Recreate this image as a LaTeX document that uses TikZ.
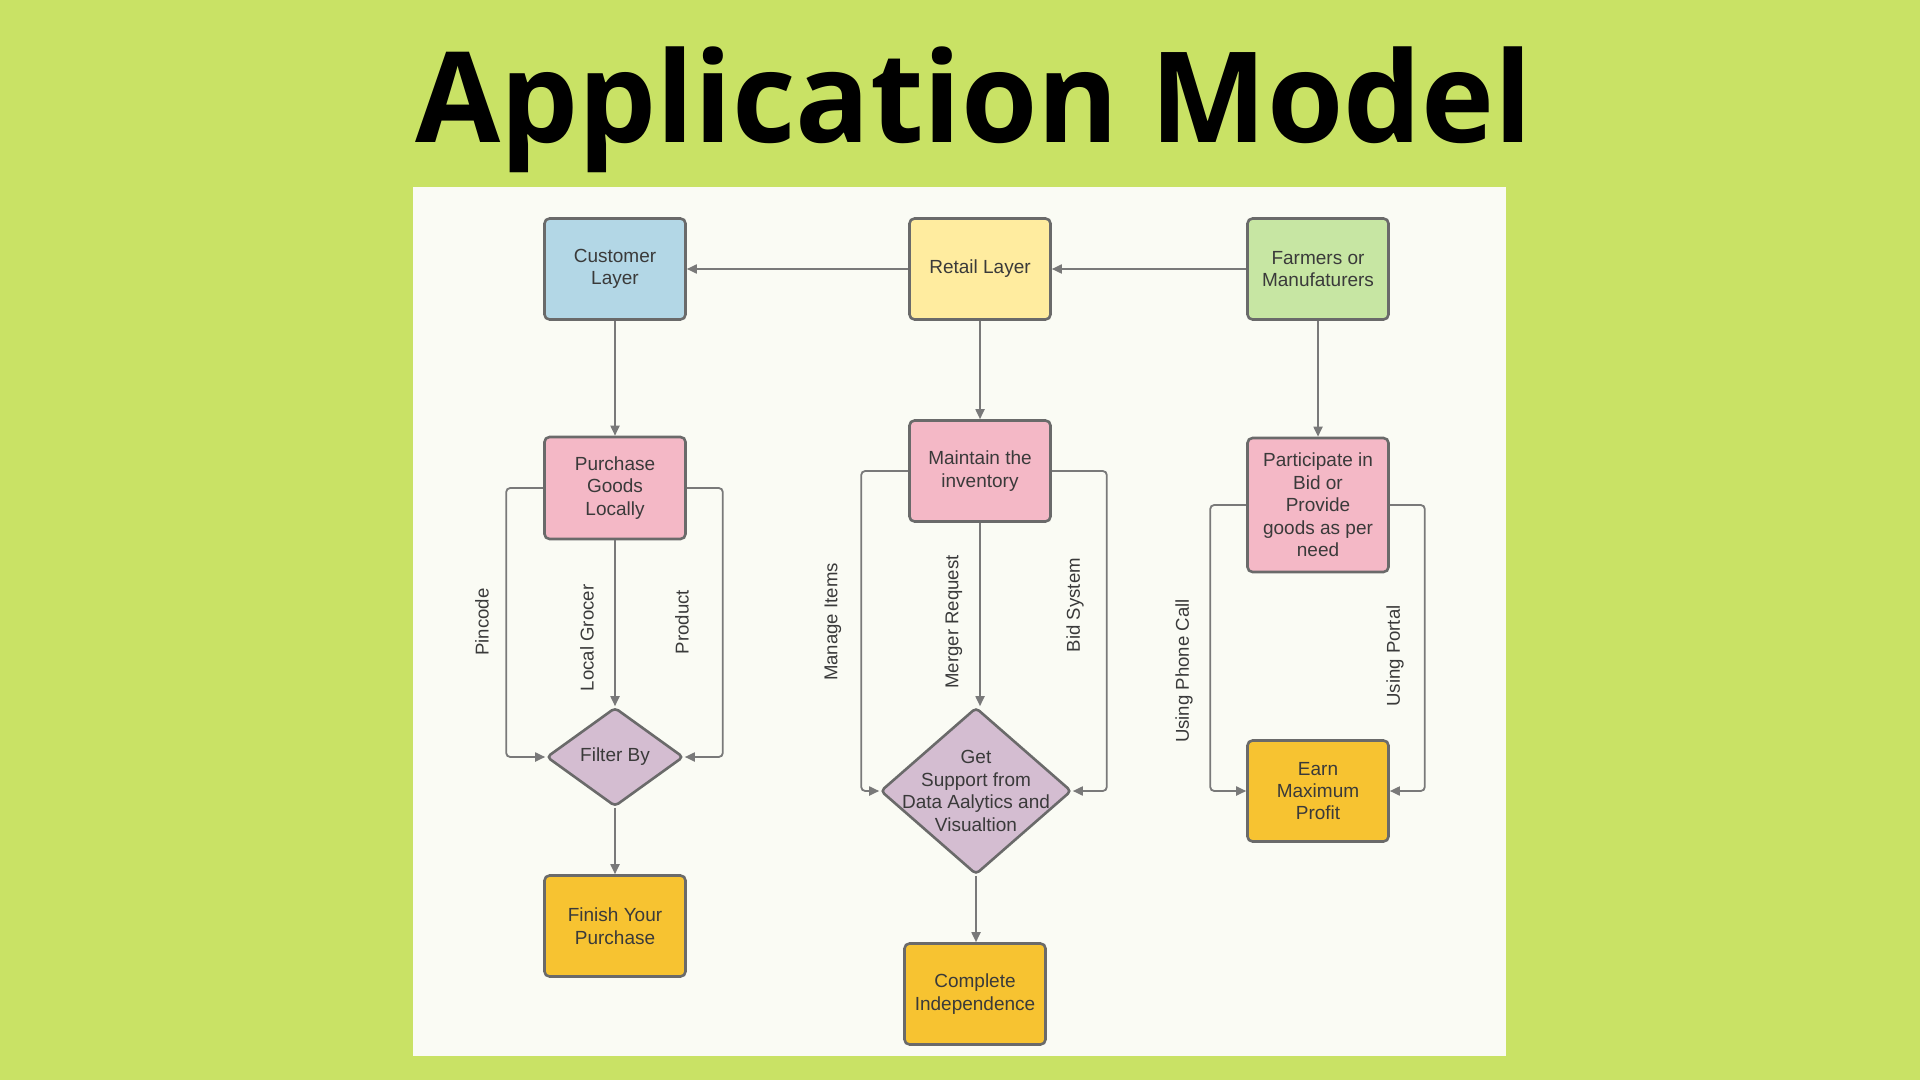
\documentclass[tikz,border=0pt]{standalone}
\usepackage{fontspec}
\setmainfont{Liberation Sans}
\newfontfamily\titlefont{Open Sans}
\usetikzlibrary{arrows.meta,positioning,shapes.geometric}

\definecolor{bggreen}{HTML}{C9E265}
\definecolor{panel}{HTML}{FAFBF4}
\definecolor{boxblue}{HTML}{B3D7E6}
\definecolor{boxyellow}{HTML}{FFEC9F}
\definecolor{boxgreen}{HTML}{C7E6A3}
\definecolor{boxpink}{HTML}{F4B8C6}
\definecolor{boxpurple}{HTML}{D4BDD1}
\definecolor{boxorange}{HTML}{F7C331}
\definecolor{edge}{HTML}{6A6A6A}
\definecolor{ink}{HTML}{3A3A3A}

\tikzset{
  layer/.style={draw=edge, line width=1.3pt, rounded corners=2.5pt,
    minimum width=70.5pt, minimum height=50.5pt, align=center,
    text=ink, font=\fontsize{9.5}{11.2}\selectfont},
  decision/.style={diamond, draw=edge, line width=1.3pt, rounded corners=2pt,
    fill=boxpurple, inner sep=0pt, text=ink,
    label={[align=center, text=ink, font=\fontsize{9.5}{11.2}\selectfont]center:#1}},
  link/.style={draw=edge!90, line width=0.9pt, rounded corners=2pt,
    -{Triangle[length=5pt,width=4.5pt]}},
  lab/.style={rotate=90, text=ink, font=\fontsize{9.3}{11}\selectfont}
}

\begin{document}
\begin{tikzpicture}[x=0.5pt,y=-0.5pt]
  \fill[bggreen] (0,0) rectangle (1920,1080);
  \fill[panel] (413,187) rectangle (1506,1056);
  \useasboundingbox (0,0) rectangle (1920,1080);

  % title
  \node[anchor=base, xscale=0.98, transform shape, font=\titlefont\bfseries\fontsize{63}{70}\selectfont] (title) at (974,143) {Application Model};

  % top layers
  \node[layer, fill=boxblue] (customer) at (615,269) {Customer\\Layer};
  \node[layer, fill=boxyellow] (retail) at (980,269) {Retail Layer};
  \node[layer, fill=boxgreen] (farmers) at (1318,269) {Farmers or\\Manufaturers};

  % second row
  \node[layer, fill=boxpink, minimum height=51pt] (purchase) at (615,488) {Purchase\\Goods\\Locally};
  \node[layer, fill=boxpink] (maintain) at (980,471) {Maintain the\\inventory};
  \node[layer, fill=boxpink, minimum height=67pt] (participate) at (1318,505) {Participate in\\Bid or\\Provide\\goods as per\\need};

  % decisions
  \node[decision={Filter By}, minimum width=68.5pt, minimum height=49.5pt] (filter) at (615,757) {};
  \node[decision={Get\\Support from\\Data Aalytics and\\Visualtion}, minimum width=95.5pt, minimum height=83.5pt] (support) at (976,791) {};

  % results
  \node[layer, fill=boxorange] (finish) at (615,926) {Finish Your\\Purchase};
  \node[layer, fill=boxorange] (complete) at (975,994) {Complete\\Independence};
  \node[layer, fill=boxorange] (earn) at (1318,791) {Earn\\Maximum\\Profit};

  % connectors
  \draw[link] (retail) -- (customer);
  \draw[link] (farmers) -- (retail);
  \draw[link] (customer) -- (purchase);
  \draw[link] (retail) -- (maintain);
  \draw[link] (farmers) -- (participate);

  \draw[link] (purchase.west) -- ++(-37,0) |- (filter.west);
  \draw[link] (purchase) -- (filter);
  \draw[link] (purchase.east) -- ++(36,0) |- (filter.east);
  \draw[link] (filter) -- (finish);

  \draw[link] (maintain.west) -- ++(-47,0) |- (support.west);
  \draw[link] (maintain.south) -- (maintain.south |- support.north);
  \draw[link] (maintain.east) -- ++(55,0) |- (support.east);
  \draw[link] (support.south) -- (support.south |- complete.north);

  \draw[link] (participate.west) -- ++(-36,0) |- (earn.west);
  \draw[link] (participate.east) -- ++(35,0) |- (earn.east);

  % connector labels
  \node[lab] (pincode) at (482,622) {Pincode};
  \node[lab] (grocer) at (587,638) {Local Grocer};
  \node[lab] (product) at (682,622) {Product};
  \node[lab] (manage) at (833,622) {Manage Items};
  \node[lab] (merger) at (954,622) {Merger Request};
  \node[lab] (bid) at (1075,605) {Bid System};
  \node[lab] (phone) at (1184,671) {Using Phone Call};
  \node[lab] (portal) at (1395,656) {Using Portal};
\end{tikzpicture}
\end{document}
